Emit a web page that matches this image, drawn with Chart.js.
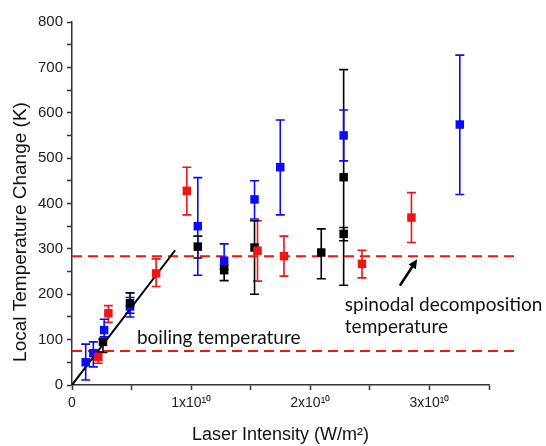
<!DOCTYPE html>
<html>
<head>
<meta charset="utf-8">
<script src="https://cdn.jsdelivr.net/npm/chart.js@4.4.1/dist/chart.umd.min.js"></script>
<style>
html,body{margin:0;padding:0;background:#fff;}
#wrap{width:546px;height:446px;}
</style>
</head>
<body>
<div id="wrap"><canvas id="c" width="546" height="446"></canvas></div>
<script>
// ---- data (x in W/m^2, y in K) ----
const redX    = [0.221e10, 0.305e10, 0.706e10, 0.964e10, 1.557e10, 1.779e10, 2.434e10, 2.849e10];
const redY    = [62, 158, 246, 428, 296, 284, 267, 369];
const redLow  = [48, 138, 217, 375, 229, 240, 236, 314];
const redHigh = [73, 175, 278, 480, 362, 328, 297, 424];

const blueX    = [0.115e10, 0.179e10, 0.270e10, 0.487e10, 1.056e10, 1.277e10, 1.532e10, 1.748e10, 2.280e10, 3.255e10];
const blueY    = [50, 70, 121, 173, 350, 274, 409, 480, 550, 574];
const blueLow  = [11, 40, 106, 150, 242, 255, 366, 375, 494, 420];
const blueHigh = [90, 95, 145, 193, 457, 311, 450, 584, 606, 727];

const blackX    = [0.260e10, 0.487e10, 1.056e10, 1.277e10, 1.532e10, 2.092e10, 2.280e10, 2.280e10];
const blackY    = [95, 180, 305, 253, 303, 292, 458, 333];
const blackLow  = [72, 158, 280, 230, 200, 234, 220, 318];
const blackHigh = [101, 203, 328, 264, 362, 344, 695, 347];

const boilingT = 75;
const spinodalT = 284;
const refLineX = [0, 3.72e10];
const fitX = [0, 0.866e10];
const fitY = [0, 297];

const xTickStep = 0.5e10;
const yTickStep = 50;
const xMax = 3.5e10;
const yMax = 800;

const xTitle = 'Laser Intensity (W/m\u00B2)';
const yTitle = 'Local Temperature Change (K)';
const boilingLabel = 'boiling temperature';
const spinodalLabel = ['spinodal decomposition', 'temperature'];

// ---- helpers ----
function pts(xs, ys, lo, hi) {
  return xs.map((x, i) => ({x: x, y: ys[i], lo: lo ? lo[i] : null, hi: hi ? hi[i] : null}));
}
const supDigits = {'0':'\u2070','1':'\u00B9'};

const RED = '#f01414', BLUE = '#0a0aff', BLACK = '#000000';

const errorBarPlugin = {
  id: 'errbars',
  beforeDatasetsDraw(chart) {
    const ctx = chart.ctx, xs = chart.scales.x, ys = chart.scales.y;
    chart.data.datasets.forEach(ds => {
      if (!ds.errorBars) return;
      ctx.save();
      ctx.strokeStyle = ds.borderColor;
      ctx.lineWidth = 1.6;
      const cap = 4.5;
      ds.data.forEach(p => {
        const px = xs.getPixelForValue(p.x);
        const pl = ys.getPixelForValue(p.lo);
        const ph = ys.getPixelForValue(p.hi);
        ctx.beginPath();
        ctx.moveTo(px, pl); ctx.lineTo(px, ph);
        ctx.moveTo(px - cap, pl); ctx.lineTo(px + cap, pl);
        ctx.moveTo(px - cap, ph); ctx.lineTo(px + cap, ph);
        ctx.stroke();
      });
      ctx.restore();
    });
  }
};

const annotationPlugin = {
  id: 'notes',
  afterDraw(chart, args, opts) {
    const ctx = chart.ctx, xs = chart.scales.x, ys = chart.scales.y;
    ctx.save();
    // y axis title
    ctx.fillStyle = '#111';
    ctx.font = opts.yTitle.font;
    ctx.textAlign = 'center';
    ctx.textBaseline = 'middle';
    ctx.save();
    ctx.translate(opts.yTitle.cx, opts.yTitle.cy);
    ctx.rotate(-Math.PI / 2);
    ctx.fillText(yTitle, 0, 0);
    ctx.restore();
    // notes
    ctx.font = opts.noteFont;
    ctx.textBaseline = 'middle';
    ctx.textAlign = 'left';
    ctx.fillText(boilingLabel, xs.getPixelForValue(opts.boiling.x), ys.getPixelForValue(opts.boiling.y));
    spinodalLabel.forEach((t, i) => {
      ctx.fillText(t, xs.getPixelForValue(opts.spinodal.x), ys.getPixelForValue(opts.spinodal.y[i]));
    });
    // arrow
    const x0 = xs.getPixelForValue(opts.arrow.from[0]), y0 = ys.getPixelForValue(opts.arrow.from[1]);
    const x1 = xs.getPixelForValue(opts.arrow.to[0]), y1 = ys.getPixelForValue(opts.arrow.to[1]);
    const ang = Math.atan2(y1 - y0, x1 - x0);
    const hl = 10;
    ctx.strokeStyle = '#000'; ctx.fillStyle = '#000';
    ctx.lineWidth = 2.6;
    ctx.beginPath();
    ctx.moveTo(x0, y0);
    ctx.lineTo(x1 - Math.cos(ang) * hl * 0.8, y1 - Math.sin(ang) * hl * 0.8);
    ctx.stroke();
    ctx.beginPath();
    ctx.moveTo(x1, y1);
    ctx.lineTo(x1 - hl * Math.cos(ang - 0.45), y1 - hl * Math.sin(ang - 0.45));
    ctx.lineTo(x1 - hl * Math.cos(ang + 0.45), y1 - hl * Math.sin(ang + 0.45));
    ctx.closePath();
    ctx.fill();
    ctx.restore();
  }
};

const markerCommon = {
  showLine: false,
  pointStyle: 'rect',
  pointRadius: 6,
  pointHoverRadius: 6,
  pointBorderWidth: 0,
  errorBars: true
};

new Chart(document.getElementById('c'), {
  type: 'scatter',
  data: {
    datasets: [
      Object.assign({label: 'red', data: pts(redX, redY, redLow, redHigh),
        backgroundColor: RED, borderColor: RED, order: 1}, markerCommon),
      Object.assign({label: 'black', data: pts(blackX, blackY, blackLow, blackHigh),
        backgroundColor: BLACK, borderColor: BLACK, order: 2}, markerCommon),
      Object.assign({label: 'blue', data: pts(blueX, blueY, blueLow, blueHigh),
        backgroundColor: BLUE, borderColor: BLUE, order: 3}, markerCommon),
      {label: 'fit', data: pts(fitX, fitY), showLine: true, borderColor: '#000', borderWidth: 2,
        pointRadius: 0, order: 4},
      {label: 'spinodal', data: pts(refLineX, [spinodalT, spinodalT]), showLine: true, borderColor: RED,
        borderWidth: 2, borderDash: [10, 6], pointRadius: 0, clip: false, order: 5},
      {label: 'boiling', data: pts(refLineX, [boilingT, boilingT]), showLine: true, borderColor: RED,
        borderWidth: 2, borderDash: [10, 6], pointRadius: 0, clip: false, order: 6}
    ]
  },
  options: {
    responsive: false,
    animation: false,
    events: [],
    layout: {padding: {left: 0, top: 22, right: 57, bottom: 0}},
    plugins: {
      legend: {display: false},
      tooltip: {enabled: false},
      notes: {
        yTitle: {cx: 21, cy: 232, font: '19px "Liberation Sans", Arial, sans-serif'},
        noteFont: '19px Lato, "Open Sans", sans-serif',
        boiling: {x: 0.545e10, y: 103},
        spinodal: {x: 2.29e10, y: [176, 128]},
        arrow: {from: [2.752e10, 219], to: [2.897e10, 277]}
      }
    },
    scales: {
      x: {
        type: 'linear', min: 0, max: xMax,
        afterFit(s) { s.height = 61; },
        border: {display: true, color: '#333', width: 1.5},
        grid: {display: true, drawOnChartArea: false, drawTicks: true, tickLength: 5, color: '#333', tickColor: '#333', tickWidth: 1.5},
        ticks: {
          stepSize: xTickStep, autoSkip: false, maxRotation: 0, padding: 5, color: '#222',
          font: {family: '"Liberation Sans", Arial, sans-serif', size: 14},
          callback(v) {
            const n = v / 1e10;
            if (Math.abs(n - Math.round(n)) > 1e-6) return '';
            if (Math.round(n) === 0) return '0';
            return Math.round(n) + 'x10' + supDigits['1'] + supDigits['0'];
          }
        },
        title: {display: true, text: xTitle, color: '#111',
          font: {family: '"Liberation Sans", Arial, sans-serif', size: 18}, padding: {top: -3, bottom: 0}}
      },
      y: {
        type: 'linear', min: 0, max: yMax,
        afterFit(s) { s.width = 72; },
        border: {display: true, color: '#333', width: 1.5},
        grid: {display: true, drawOnChartArea: false, drawTicks: true, tickLength: 5, color: '#333', tickColor: '#333', tickWidth: 1.5},
        ticks: {
          stepSize: yTickStep, autoSkip: false, padding: 4, color: '#222',
          font: {family: '"Liberation Sans", Arial, sans-serif', size: 15},
          callback(v) { return v % 100 === 0 ? String(v) : ''; }
        },
        title: {display: false, text: yTitle}
      }
    }
  },
  plugins: [errorBarPlugin, annotationPlugin]
});
</script>
</body>
</html>
